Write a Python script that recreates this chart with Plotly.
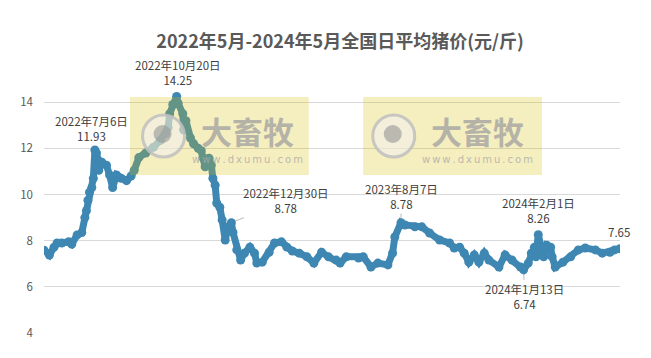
import plotly.graph_objects as go

# ---- data ----
dates = [
    "2022-05-01", "2022-05-08", "2022-05-14", "2022-05-18", "2022-05-24",
    "2022-06-02", "2022-06-06", "2022-06-13", "2022-06-19", "2022-06-23", "2022-06-25", "2022-06-27", "2022-06-29",
    "2022-07-02", "2022-07-04", "2022-07-06", "2022-07-08", "2022-07-10", "2022-07-11", "2022-07-15", "2022-07-21", "2022-07-25", "2022-07-29",
    "2022-08-03", "2022-08-09", "2022-08-16", "2022-08-22", "2022-08-26",
    "2022-09-01", "2022-09-10", "2022-09-20", "2022-09-29",
    "2022-10-06", "2022-10-09", "2022-10-11", "2022-10-15", "2022-10-20", "2022-10-22", "2022-10-28", "2022-10-29",
    "2022-11-01", "2022-11-07", "2022-11-11", "2022-11-17", "2022-11-21", "2022-11-23", "2022-11-26",
    "2022-12-01", "2022-12-04", "2022-12-06", "2022-12-09", "2022-12-11", "2022-12-15", "2022-12-18", "2022-12-22", "2022-12-26", "2022-12-30",
    "2023-01-01", "2023-01-06", "2023-01-11", "2023-01-16", "2023-01-23", "2023-01-29",
    "2023-02-01", "2023-02-08", "2023-02-17", "2023-02-24",
    "2023-03-05", "2023-03-12", "2023-03-19", "2023-03-28",
    "2023-04-07", "2023-04-16", "2023-04-26",
    "2023-05-05", "2023-05-15", "2023-05-20", "2023-05-28",
    "2023-06-13", "2023-06-19", "2023-06-29",
    "2023-07-08", "2023-07-21", "2023-07-27", "2023-07-30",
    "2023-08-07", "2023-08-12", "2023-08-25",
    "2023-09-03", "2023-09-13", "2023-09-26",
    "2023-10-09", "2023-10-15", "2023-10-22", "2023-10-28",
    "2023-11-03", "2023-11-10", "2023-11-16", "2023-11-23", "2023-11-29",
    "2023-12-12", "2023-12-20", "2023-12-29",
    "2024-01-09", "2024-01-13", "2024-01-19", "2024-01-23", "2024-01-27", "2024-01-29",
    "2024-02-01", "2024-02-05", "2024-02-08", "2024-02-12", "2024-02-17", "2024-02-19", "2024-02-23",
    "2024-03-04", "2024-03-14", "2024-03-24",
    "2024-04-02", "2024-04-15", "2024-04-24",
    "2024-05-04", "2024-05-10", "2024-05-17",
]
prices = [
    7.59, 7.38, 7.72, 7.9, 7.9,
    7.95, 7.85, 8.25, 8.35, 9.0, 9.3, 9.75, 10.1,
    10.3, 10.7, 11.93, 11.8, 11.5, 11.05, 11.4, 11.27, 10.85, 10.3,
    10.85, 10.7, 10.6, 10.8, 11.05,
    11.6, 11.8, 12.05, 12.35,
    12.65, 12.9, 13.5, 13.9, 14.25, 13.95, 13.5, 12.8,
    13.2, 12.45, 12.2, 12.0, 11.9, 11.6, 11.2,
    11.57, 11.27, 10.7, 10.4, 9.63, 9.45, 8.9, 8.03, 8.6, 8.78,
    8.37, 7.6, 7.16, 7.46, 7.72, 7.46,
    7.03, 7.07, 7.5, 7.9,
    7.95, 7.72, 7.55, 7.46,
    7.3, 7.03, 7.5,
    7.3, 7.16, 7.03, 7.3,
    7.25, 7.3, 6.86,
    7.03, 6.95, 7.46, 8.16,
    8.78, 8.68, 8.6,
    8.6, 8.33, 8.03,
    7.9, 7.68, 7.72, 7.46,
    7.07, 7.38, 7.07, 7.46, 7.16,
    6.86, 7.38, 7.16,
    6.86, 6.74, 7.03, 7.46, 7.72, 7.3,
    8.26, 7.68, 7.3, 7.8, 7.72, 7.3, 6.86,
    7.07, 7.3, 7.6,
    7.68, 7.6, 7.46,
    7.5, 7.6, 7.65,
]
y_ticks = [4, 6, 8, 10, 12, 14]

label_dates = ["2022-07-06", "2022-10-20", "2022-12-30", "2023-08-07", "2024-01-13", "2024-02-01", "2024-05-17"]
label_names = ["2022年7月6日", "2022年10月20日", "2022年12月30日", "2023年8月7日", "2024年1月13日", "2024年2月1日", ""]

title_text = "2022年5月-2024年5月全国日平均猪价(元/斤)"
wm_big = "大畜牧"
wm_small = "\u2009".join("www.dxumu.com")

# ---- styles / layout ----
OFF = 8                      # default page margin of the html body
W, H = 651 - OFF, 358 - OFF
PL, PR, PT, PB = 37, 620, 56, 333   # plot area in window pixels
L, R, T, B = PL - OFF, 651 - PR, PT - OFF, 358 - PB
PW, PH = PR - PL, PB - PT
CJK = "Noto Sans CJK SC"
blue = "#3e87b3"

def px(xp):
    return (xp - PL) / PW

def py(yp):
    return (PB - yp) / PH

fig = go.Figure()
fig.add_trace(go.Scatter(
    x=dates, y=prices, mode="lines+markers",
    line=dict(color=blue, width=7),
    marker=dict(color=blue, size=9),
    hoverinfo="skip", showlegend=False,
))

# label offsets (ax, ay) and whether a leader line is shown
label_style = [(-3, -21, False), (1, -24, False), (55, -22, True), (0, -26, True),
               (1, 27, True), (0, -24, False), (-1, -17, False)]
annotations = []
for d, name, (ax, ay, leader) in zip(label_dates, label_names, label_style):
    v = prices[dates.index(d)]
    txt = f"{name}<br>{v:.2f}" if name else f"{v:.2f}"
    annotations.append(dict(
        x=d, y=v, xref="x", yref="y", text=txt, showarrow=True,
        ax=ax, ay=ay, arrowhead=0, arrowwidth=0.8, standoff=4,
        arrowcolor="#a6a6a6" if leader else "rgba(0,0,0,0)",
        font=dict(family=CJK, size=11.5, color="#404040"), align="center",
    ))

shapes = []
# watermark boxes
for x0, cx, tx in [(124, 158, 243), (360, 391, 476)]:
    x1 = x0 + 181
    shapes.append(dict(type="rect", xref="paper", yref="paper", layer="above",
                       x0=px(x0), x1=px(x1), y0=py(175), y1=py(97),
                       fillcolor="rgba(214,186,0,0.25)", line=dict(width=0)))
    shapes.append(dict(type="circle", xref="paper", yref="paper", layer="above",
                       xsizemode="pixel", ysizemode="pixel",
                       xanchor=px(cx), yanchor=py(136), x0=-21, x1=21, y0=-21, y1=21,
                       fillcolor="rgba(240,240,240,0.55)",
                       line=dict(color="rgba(190,190,190,0.85)", width=3)))
    shapes.append(dict(type="circle", xref="paper", yref="paper", layer="above",
                       xsizemode="pixel", ysizemode="pixel",
                       xanchor=px(cx - 1), yanchor=py(134), x0=-9, x1=9, y0=-9, y1=9,
                       fillcolor="rgba(150,150,150,0.6)", line=dict(width=0)))
    annotations.append(dict(x=px(tx), y=py(131), xref="paper", yref="paper", showarrow=False,
                            xanchor="center", yanchor="middle",
                            text=wm_big, font=dict(family=CJK, size=31, color="rgba(160,160,160,0.75)",
                                                   weight="bold")))
    annotations.append(dict(x=px(tx), y=py(159), xref="paper", yref="paper", showarrow=False,
                            xanchor="center", yanchor="middle",
                            text=wm_small, font=dict(family="DejaVu Sans", size=10,
                                                     color="rgba(170,170,170,0.8)")))

fig.update_layout(
    width=W, height=H,
    margin=dict(l=L, r=R, t=T, b=B, pad=0),
    paper_bgcolor="white", plot_bgcolor="white",
    title=dict(text=title_text, x=(340 - OFF) / W, xref="container", xanchor="center",
               y=1 - (42 - OFF) / H, yref="container", yanchor="middle",
               font=dict(family=CJK, size=18, color="#595959", weight="bold")),
    xaxis=dict(type="date", range=[dates[0], dates[-1]], showgrid=False, zeroline=False,
               showticklabels=False, ticks="", showline=False, fixedrange=True),
    yaxis=dict(range=[4, 16], tickvals=y_ticks, showgrid=True, gridcolor="#d9d9d9", gridwidth=1,
               zeroline=False, showline=False, ticks="", ticklabelstandoff=10,
               tickfont=dict(family=CJK, size=11.5, color="#595959")),
    annotations=annotations, shapes=shapes,
    showlegend=False,
)

fig.write_html("out.html")
